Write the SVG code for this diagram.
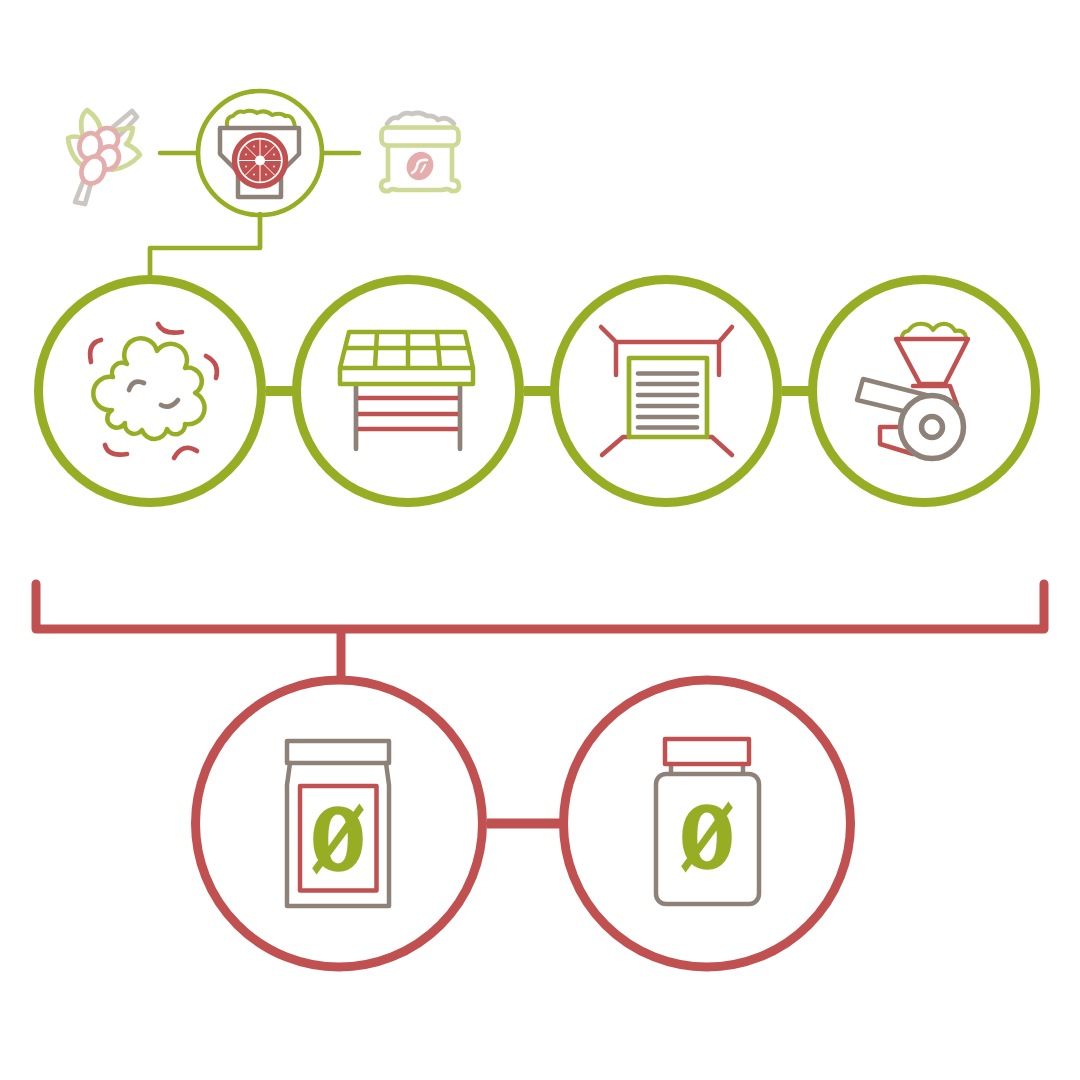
<svg xmlns="http://www.w3.org/2000/svg" width="1080" height="1080" viewBox="0 0 1080 1080">
<style>
.s{fill:none;stroke-linecap:round;stroke-linejoin:round}
.w{fill:#fff;stroke-linecap:round;stroke-linejoin:round}
.g{stroke:#97ae24}.r{stroke:#c15050}.b{stroke:#8e8177}
.pg{stroke:#cdd994}.pr{stroke:#e5aeac}.pb{stroke:#cbc6c1}
.t3{stroke-width:4}.t4{stroke-width:4.500}.t45{stroke-width:4.700}.t5{stroke-width:5.500}
.big{stroke-width:9}
.o{font-family:"DejaVu Serif","Liberation Serif",serif;font-weight:700;font-size:83px;fill:#97ae24;stroke:#97ae24;stroke-width:3.500;text-anchor:middle}
</style>
<g id="connectors">
<path class="s g t45" d="M160 153H196M323 153H359M260 214V248H150V278"/>
<path class="s g" stroke-width="10" d="M266 391H293M524 391H551M782 391H809" style="stroke-linecap:butt"/>
<path class="s r big" d="M36 584V629H1044V584"/>
<path class="s r big" d="M341 629V678" style="stroke-linecap:butt"/>
<path class="s r" stroke-width="10" d="M487 823.500H560" style="stroke-linecap:butt"/>
</g>
<g id="node-cherry">
<path class="s pb t45" d="M113 127L132 111L137 117L120 135M83 182L75 202L85 204L91 183"/>
<path class="s pg t45" d="M83 137Q78 117 87 110Q101 120 101 134M82 138Q74 135 68 138Q70 157 84 167M116 130Q125 128 133 128Q131 140 126 144Q136 148 140 155Q128 168 112 170"/>
<ellipse class="w pr t45" cx="107" cy="139" rx="11" ry="11"/>
<ellipse class="w pr t45" cx="108" cy="158" rx="10.500" ry="12" transform="rotate(30 108 158)"/>
<ellipse class="w pr t45" cx="90" cy="146" rx="10.500" ry="13" transform="rotate(10 90 146)"/>
<ellipse class="w pr t45" cx="93" cy="170" rx="11" ry="14" transform="rotate(25 93 170)"/>
</g>
<g id="node-depulper">
<circle class="s g t45" cx="260" cy="153" r="62"/>
<path class="s g t3" d="M227 126Q226 117 233 116Q238 110 244 112Q251 109 257 113Q265 109 272 115Q281 112 285 116Q293 114 295 127"/>
<path class="s b t4" d="M220 128H299V154L281 172V197H238V172L220 154Z"/>
<circle cx="260" cy="160.500" r="25.500" fill="#fff" class="r t5"/>
<circle cx="260" cy="160.500" r="21" fill="#c15050"/>
<path stroke="#fff" stroke-width="1" d="M260 139V182M238.500 160.500H281.500M244.800 145.300L275.200 175.700M275.200 145.300L244.800 175.700"/>
<circle cx="260" cy="160.500" r="5" fill="#fff"/>
<g fill="#fff"><circle cx="254" cy="146.500" r=".9"/><circle cx="266" cy="146.500" r=".9"/><circle cx="274" cy="154.500" r=".9"/><circle cx="274" cy="166.500" r=".9"/><circle cx="266" cy="174.500" r=".9"/><circle cx="254" cy="174.500" r=".9"/><circle cx="246" cy="166.500" r=".9"/><circle cx="246" cy="154.500" r=".9"/></g>
</g>
<g id="node-sack">
<path class="s pb t45" d="M387 124Q392 116 398 118Q404 111 412 114Q420 111 427 116Q434 115 438 120Q447 115 454 124"/>
<path class="s pg t45" d="M388 145V180Q381 180 381 186Q382 192 389 191Q391 188 397 190H442Q449 188 451 191Q459 192 459 186Q459 180 452 180V145"/>
<rect class="w pg t45" x="381.500" y="127.500" width="77" height="18" rx="6"/>
<ellipse fill="#e5aeac" cx="420" cy="166" rx="13" ry="14.500" transform="rotate(30 420 166)"/>
<path class="s" stroke="#fff" stroke-width="2.500" d="M427 160Q418 159 417 166Q416 171 412 173"/>
<path class="s" stroke="#fff" stroke-width="2" d="M425 165Q423 169 421 172"/>
</g>
<g id="node-pile">
<circle class="s g big" cx="150" cy="391" r="111.500"/>
<path class="s g t4" d="M127 364A16.600 16.600 0 1 1 157 351A16.400 16.400 0 0 1 185 368A13.600 13.600 0 0 1 195 393A16.400 16.400 0 0 1 185 424A9.500 9.500 0 0 1 167 429A13 13 0 0 1 142 430A9.500 9.500 0 0 1 125 423A9.500 9.500 0 1 1 112 410A16.700 16.700 0 1 1 113 377A10 10 0 0 1 127 364"/>
<path class="s r t45" d="M158 324Q163 335 182 332M101 340Q87 343 91 362M206 356Q220 363 216 378M105 445Q108 457 127 454M174 458Q183 442 197 451"/>
<path class="s b t45" d="M129 390Q133 378 144 383M161 405Q170 410 178 400"/>
</g>
<g id="node-table">
<circle class="s g big" cx="408" cy="391" r="111.500"/>
<path class="s b t45" d="M356 384V449M460 384V449"/>
<path class="s r t45" d="M358 398H458M358 414H458M358 429H458" style="stroke-linecap:butt"/>
<path class="s g t4" d="M349 332H465L473 368V384H340V368ZM340 368H473M345 348H469M377 333L375 367M408 333V367M437 333L440 367"/>
</g>
<g id="node-press">
<circle class="s g big" cx="666" cy="391" r="111.500"/>
<path class="s r t4" d="M601 327L616 342V375M616 342H719V375M732 327L719 342M602 455L623 437H630M732 455L712 437H706"/>
<rect class="s g t45" x="629" y="358" width="78" height="79"/>
<path class="s b t45" d="M638 373.500H697M638 384H697M638 395H697M638 406H697M638 417H697M638 427.500H697"/>
</g>
<g id="node-grinder">
<circle class="s g big" cx="924" cy="391" r="111.500"/>
<path class="s g t3" d="M902 336Q904 331 908 331Q914 322 924 324Q930 325 933 330Q938 323 946 324Q952 325 955 331Q964 329 966 337"/>
<path class="s r t4" d="M896 339H968L945 384H920ZM913 386H950L957 405M900 427H880V444L913 454"/>
<path class="s b t4" d="M903 411L857 400L863 379L930 396"/>
<circle class="w b t5" cx="932" cy="427" r="31.500"/>
<circle class="s b t5" cx="932" cy="427" r="10.500"/>
</g>
<g id="node-bag">
<circle class="s r big" cx="339" cy="823.500" r="143.500"/>
<path class="s b t4" d="M290 763L287 785V906H389V785L386 763"/>
<rect class="s b t4" x="287" y="741" width="102" height="22"/>
<rect class="s r t4" x="300" y="786" width="76.500" height="104.500"/>
<text class="o" transform="translate(338 869) scale(.72 1)">Ø</text>
</g>
<g id="node-jar">
<circle class="s r big" cx="707" cy="823.500" r="143.500"/>
<path class="s b t4" d="M671 764V773M743 764V773"/>
<rect class="s b t4" x="656" y="774" width="103" height="130" rx="10"/>
<rect class="s r t4" x="665" y="739" width="84" height="25"/>
<text class="o" transform="translate(707 867) scale(.72 1)">Ø</text>
</g>
</svg>
